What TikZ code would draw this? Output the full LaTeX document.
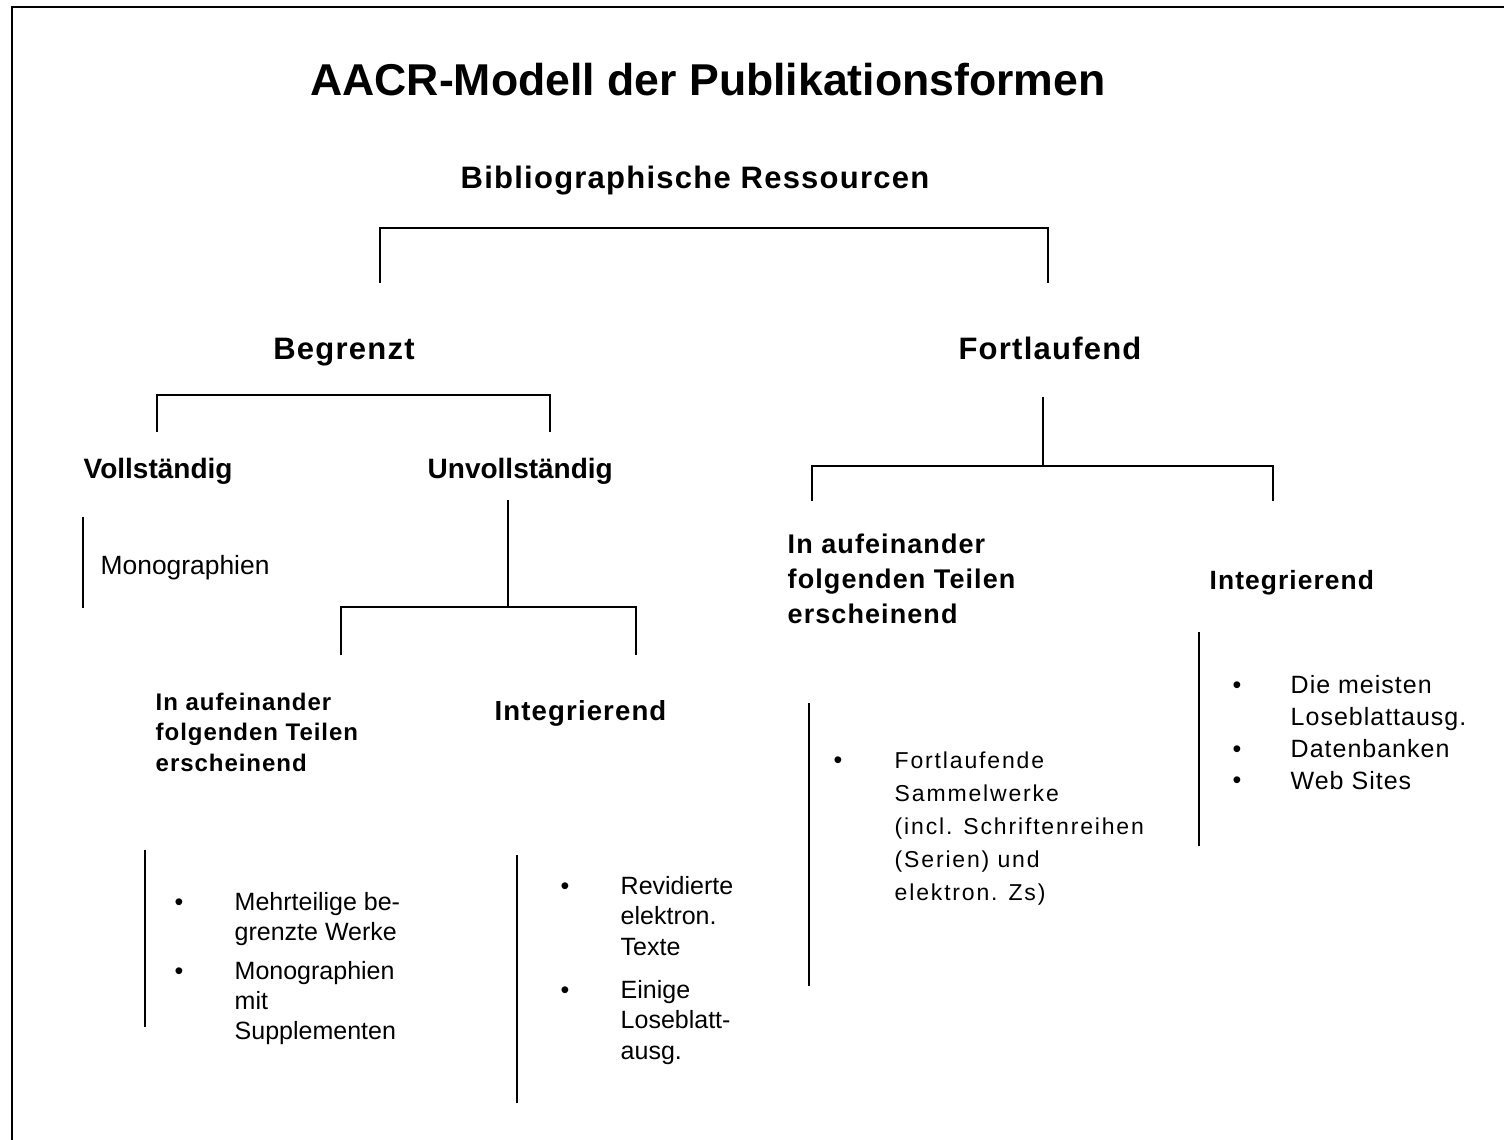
\documentclass[tikz,border=0pt]{standalone}
\usepackage{fontspec}
\setmainfont{Liberation Sans}
\newfontfamily\trackA[LetterSpace=4]{Liberation Sans}
\newfontfamily\trackB[LetterSpace=8]{Liberation Sans}

\begin{document}
\begin{tikzpicture}[x=0.5pt, y=-0.5pt, line width=0.7pt]
    % `title' is the heading, `level' the two upper tree levels.
    % `kind' and `mode' are the lower headings, `items' the lists.
    % `frame' is only used for the page border.
    \tikzstyle{title} = [anchor=base, inner sep=0pt, font=\bfseries\fontsize{22.3}{26}\selectfont]
    \tikzstyle{level} = [anchor=base, inner sep=0pt, font=\trackA\bfseries\fontsize{15.5}{18}\selectfont]
    \tikzstyle{kind} = [anchor=base west, inner sep=0pt, font=\bfseries\fontsize{14}{17}\selectfont]
    \tikzstyle{mode} = [anchor=base west, inner sep=0pt, font=\trackA\bfseries\fontsize{13.5}{17.5}\selectfont]
    \tikzstyle{items} = [anchor=base west, inner sep=0pt, font=\fontsize{12.5}{15}\selectfont]
    \tikzstyle{dot} = [anchor=base, inner sep=0pt, font=\fontsize{12.5}{15}\selectfont]
    \tikzstyle{frame} = [line width=1pt]
    %
    \useasboundingbox (0,0) rectangle (1504,1140);
    \draw[frame] (12,1140) |- (1504,7);
    %
    \node[title] (title) at (708,95) {AACR-Modell der Publikationsformen};
    \node[level] (bib) at (695,188) {Bibliographische Ressourcen};
    \node[level] (begr) at (344,359) {Begrenzt};
    \node[level] (fortl) at (1050,359) {Fortlaufend};
    \node[kind] (voll) at (83,478) {Vollständig};
    \node[kind] (unvoll) at (427,478) {Unvollständig};
    \node[items, font=\fontsize{13.2}{15}\selectfont] (mono) at (100,574) {Monographien};
    \node[mode, font=\trackA\bfseries\fontsize{12}{15.25}\selectfont] (teileL) at (155,710)
      {\begin{tabular}[t]{@{}l@{}}In aufeinander\\folgenden Teilen\\erscheinend\end{tabular}};
    \node[mode, font=\trackA\bfseries\fontsize{13.8}{15}\selectfont] (integL) at (494,720) {Integrierend};
    \node[mode] (teileR) at (787,553)
      {\begin{tabular}[t]{@{}l@{}}In aufeinander\\folgenden Teilen\\erscheinend\end{tabular}};
    \node[mode, font=\trackA\bfseries\fontsize{13.2}{15}\selectfont] (integR) at (1209,589) {Integrierend};
    %
    \node[items] (listA) at (234,910)
      {\begin{tabular}[t]{@{}l@{}}Mehrteilige be-\\grenzte Werke\\[4.5pt]Monographien\\mit\\Supplementen\end{tabular}};
    \node[items, font=\fontsize{12.5}{15.25}\selectfont] (listB) at (620,894)
      {\begin{tabular}[t]{@{}l@{}}Revidierte\\elektron.\\Texte\\[6.25pt]Einige\\Loseblatt-\\ausg.\end{tabular}};
    \node[items, font=\trackB\fontsize{11.5}{16.5}\selectfont] (listC) at (894,768)
      {\begin{tabular}[t]{@{}l@{}}Fortlaufende\\Sammelwerke\\(incl. Schriftenreihen\\(Serien) und\\elektron. Zs)\end{tabular}};
    \node[items, font=\trackA\fontsize{12.5}{16}\selectfont] (listD) at (1290,693)
      {\begin{tabular}[t]{@{}l@{}}Die meisten\\Loseblattausg.\\Datenbanken\\Web Sites\end{tabular}};
    \foreach \x/\y [count=\i] in {179/910, 179/979, 565/894, 565/998, 838/768, 1237/693, 1237/757, 1237/788}
      \node[dot] (bullet\i) at (\x,\y) {\textbullet};
    %
    % bracket ends
    \coordinate (bibarmL) at (380,283);
    \coordinate (bibarmR) at (1048,283);
    \coordinate (begrarmL) at (157,432);
    \coordinate (begrarmR) at (550,432);
    \coordinate (fortlstem) at (1043,397);
    \coordinate (fortlarmL) at (812,501);
    \coordinate (fortlarmR) at (1273,501);
    \coordinate (unvollstem) at (508,500);
    \coordinate (unvollarmL) at (341,655);
    \coordinate (unvollarmR) at (636,655);
    %
    \draw (bibarmL) -- ++(0,-55) -| (bibarmR);
    \draw (begrarmL) -- ++(0,-37) -| (begrarmR);
    \draw (fortlstem) -- ++(0,69) coordinate (fortlmid);
    \draw (fortlarmL) |- (fortlmid) -| (fortlarmR);
    \draw (unvollstem) -- ++(0,107) coordinate (unvollmid);
    \draw (unvollarmL) |- (unvollmid) -| (unvollarmR);
    % bars beside the lists
    \foreach \x/\top/\bot in {83/517/608, 145/850/1027, 517/855/1103, 809/703/986, 1199/632/846}
      \draw (\x,\top) -- (\x,\bot);
\end{tikzpicture}
\end{document}
